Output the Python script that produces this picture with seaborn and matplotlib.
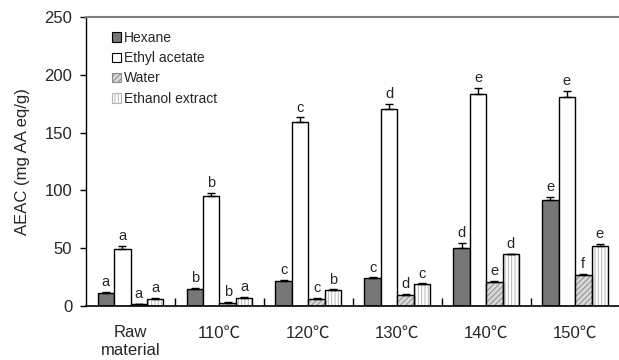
import numpy as np
import pandas as pd
import matplotlib
matplotlib.use("Agg")
import matplotlib.pyplot as plt
from matplotlib.patches import Rectangle
import seaborn as sns

groups = ["Raw\nmaterial", "110℃", "120℃", "130℃", "140℃", "150℃"]
series = ["Hexane", "Ethyl acetate", "Water", "Ethanol extract"]

hexane = [11.5, 15.0, 21.4, 24.0, 50.0, 91.5]
ethyl_acetate = [49.5, 95.5, 159.2, 170.5, 183.0, 181.0]
water = [1.8, 3.0, 6.3, 9.8, 21.0, 27.0]
ethanol = [6.3, 7.0, 13.8, 18.7, 44.8, 52.3]

hexane_err = [0.8, 0.8, 1.0, 0.8, 4.3, 2.9]
ethyl_acetate_err = [2.2, 2.0, 4.0, 4.6, 5.8, 5.2]
water_err = [0.3, 0.3, 0.5, 0.5, 0.8, 1.0]
ethanol_err = [0.5, 0.8, 0.5, 0.8, 0.6, 1.5]

hexane_lab = ["a", "b", "c", "c", "d", "e"]
ethyl_acetate_lab = ["a", "b", "c", "d", "e", "e"]
water_lab = ["a", "b", "c", "d", "e", "f"]
ethanol_lab = ["a", "a", "b", "c", "d", "e"]

values = [hexane, ethyl_acetate, water, ethanol]
errors = [hexane_err, ethyl_acetate_err, water_err, ethanol_err]
letters = [hexane_lab, ethyl_acetate_lab, water_lab, ethanol_lab]

df = pd.DataFrame({
    "group": groups * len(series),
    "series": np.repeat(series, len(groups)),
    "value": np.concatenate(values),
})

sns.set_style("ticks")
plt.rcParams["font.family"] = ["Liberation Sans", "Noto Sans CJK JP"]
plt.rcParams["hatch.linewidth"] = 0.7

fig = plt.figure(figsize=(6.19, 3.6), dpi=100)
ax = fig.add_axes([0.139, 0.15, 0.862, 0.803])

fills = ["#777777", "white", "#d8d8d8", "white"]
hatches = [None, None, "//////", "|||||"]
hatch_cols = [None, None, "#8c8c8c", "#b4b4b4"]

sns.barplot(data=df, x="group", y="value", hue="series", order=groups,
            hue_order=series, width=0.74, gap=0, palette=fills,
            edgecolor="black", linewidth=1, legend=False, ax=ax)

handles = []
for cont, fc, htc, hc, err, labs in zip(ax.containers, fills, hatches, hatch_cols, errors, letters):
    xs, tops = [], []
    for patch in cont.patches:
        patch.set_facecolor(fc)
        if htc:
            # hatch colour follows edge colour, so redraw the black outline on top
            patch.set_hatch(htc)
            patch.set_edgecolor(hc)
            patch.set_linewidth(0)
            ax.add_patch(Rectangle((patch.get_x(), patch.get_y()), patch.get_width(),
                                   patch.get_height(), fill=False, edgecolor="black",
                                   linewidth=1, zorder=patch.get_zorder() + 0.1))
        xs.append(patch.get_x() + patch.get_width() / 2)
        tops.append(patch.get_height())
    h = Rectangle((0, 0), 1, 1, facecolor=fc, edgecolor="black", linewidth=0.8)
    if htc:
        h = Rectangle((0, 0), 1, 1, facecolor=fc, edgecolor=hc, hatch=htc, linewidth=0.8)
    handles.append(h)
    ax.errorbar(xs, tops, yerr=[np.zeros(len(err)), err], fmt="none",
                ecolor="black", elinewidth=1, capsize=3, capthick=1, zorder=4)
    for x, t, e, lab in zip(xs, tops, err, labs):
        ax.annotate(lab, (x, t + e), textcoords="offset points", xytext=(0, 2),
                    ha="center", va="bottom", fontsize=10.5)

ax.legend(handles=handles, labels=series, loc="upper left",
          bbox_to_anchor=(0.03, 0.985), frameon=False, fontsize=10,
          handlelength=0.7, handleheight=0.7, handletextpad=0.2,
          labelspacing=0.45, borderaxespad=0.3)

ax.set_ylim(0, 250)
ax.set_xlim(-0.5, 5.5)
ax.set_yticks([0, 50, 100, 150, 200, 250])
ax.set_ylabel("AEAC (mg AA eq/g)", fontsize=12, labelpad=10)
ax.set_xlabel("")

ax.set_xticks(np.arange(len(groups)))
ax.set_xticklabels(groups, fontsize=12, linespacing=1.25)
ax.set_xticks(np.arange(len(groups) - 1) + 0.5, minor=True)
ax.tick_params(axis="x", which="major", length=0, pad=14)
ax.tick_params(axis="x", which="minor", direction="in", length=6, width=1, color="black")
ax.tick_params(axis="y", labelsize=12, length=4, width=1, direction="out", color="black", pad=6)

ax.spines["right"].set_visible(False)
ax.spines["top"].set_color("#808080")
ax.spines["top"].set_linewidth(1.5)
ax.spines["left"].set_color("black")
ax.spines["bottom"].set_color("black")
ax.spines["left"].set_linewidth(1)
ax.spines["bottom"].set_linewidth(1.2)

plt.savefig("out.png", dpi=100)
